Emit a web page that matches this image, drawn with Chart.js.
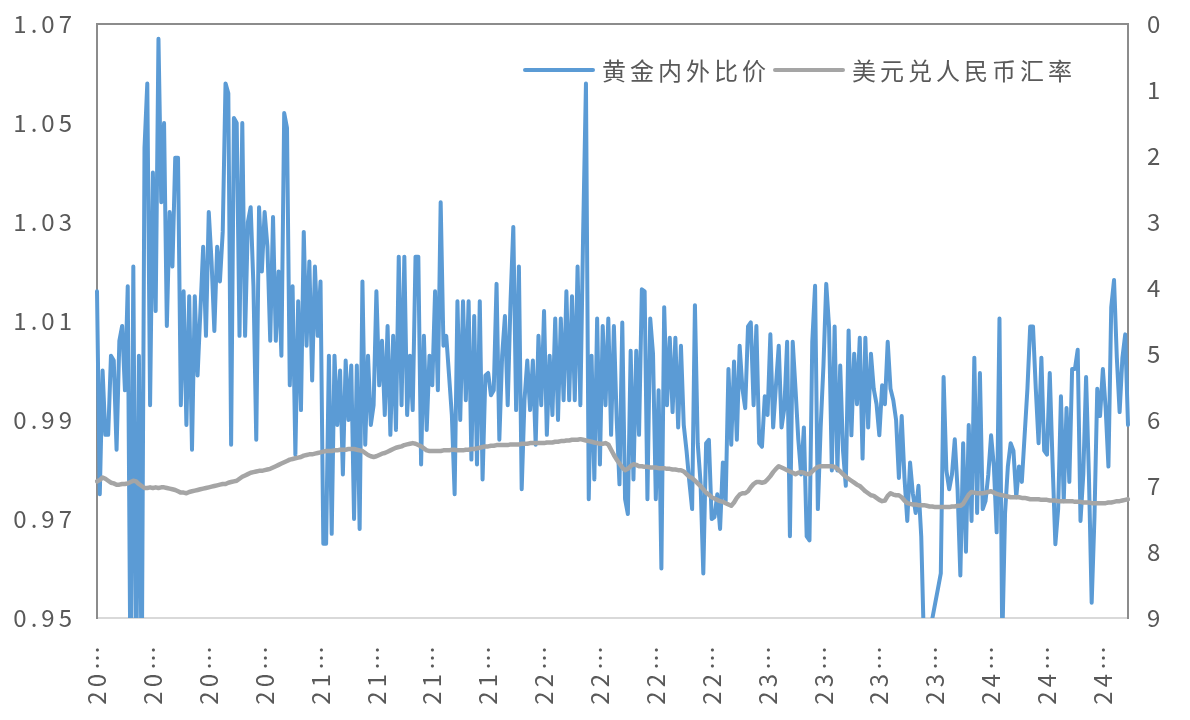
<!DOCTYPE html>
<html>
<head>
<meta charset="utf-8">
<script src="https://cdn.jsdelivr.net/npm/chart.js@4/dist/chart.umd.min.js"></script>
<style>
  html, body { margin: 0; padding: 0; background: #fff; }
  #wrap { position: relative; width: 1190px; height: 720px; }
  #legend {
    position: absolute; left: 523px; top: 52px;
    display: flex; align-items: center;
    font: 24px "Noto Sans CJK SC", sans-serif; letter-spacing: 4px; color: #595959;
  }
  #legend .item { display: flex; align-items: center; margin-right: 3px; }
  #legend .swatch { width: 72px; height: 4px; border-radius: 2px; margin-right: 7px; }
</style>
</head>
<body>
<div id="wrap">
  <canvas id="chart" width="1190" height="720"></canvas>
  <div id="legend"></div>
</div>
<script>
// 黄金内外比价 vs 美元兑人民币汇率, 2020 - 2024

const SERIES_NAMES = ["黄金内外比价", "美元兑人民币汇率"];

// one label shown every 20 points (quarterly)
const xTickText = ["20…", "20…", "20…", "20…", "21…", "21…", "21…", "21…", "22…", "22…",
  "22…", "22…", "23…", "23…", "23…", "23…", "24…", "24…", "24…"];
const TICK_EVERY = 20;

const leftTicks = { min: 0.95, max: 1.07, step: 0.02 };
const rightTicks = { min: 0, max: 9, step: 1 };

// gold domestic / overseas price ratio (left axis)
const goldRatio = [
  1.016, 0.975, 1.0, 0.987, 0.987, 1.003, 1.002, 0.984, 1.006, 1.009,
  0.996, 1.017, 0.935, 1.021, 0.935, 1.003, 0.935, 1.045, 1.058, 0.993,
  1.04, 1.012, 1.067, 1.034, 1.05, 1.009, 1.032, 1.021, 1.043, 1.043,
  0.993, 1.016, 0.989, 1.015, 0.984, 1.015, 0.999, 1.012, 1.025, 1.007,
  1.032, 1.022, 1.008, 1.025, 1.018, 1.028, 1.058, 1.056, 0.985, 1.051,
  1.05, 1.007, 1.05, 1.007, 1.03, 1.033, 1.017, 0.986, 1.033, 1.02,
  1.032, 1.025, 1.006, 1.031, 1.006, 1.02, 1.003, 1.052, 1.049, 0.997,
  1.017, 0.983, 1.014, 0.992, 1.028, 1.005, 1.022, 0.998, 1.021, 1.007,
  1.018, 0.965, 0.965, 1.003, 0.967, 1.003, 0.989, 1.0, 0.979, 1.002,
  0.99, 1.001, 0.97, 1.001, 0.968, 1.018, 0.985, 1.003, 0.989, 0.993,
  1.016, 0.997, 1.006, 0.991, 1.009, 0.987, 1.007, 0.988, 1.023, 0.993,
  1.023, 0.991, 1.003, 0.992, 1.023, 1.023, 0.981, 1.007, 0.988, 1.003,
  0.997, 1.016, 0.996, 1.034, 1.005, 1.007, 0.999, 0.991, 0.975, 1.014,
  0.99, 1.014, 0.994, 1.014, 0.982, 1.011, 0.981, 1.014, 0.978, 0.999,
  0.9995, 0.995, 0.996, 1.0175, 0.986, 1.003, 1.011, 0.993, 1.014, 1.029,
  0.992, 1.021, 0.976, 0.994, 1.002, 0.992, 1.002, 0.985, 1.007, 0.993,
  1.012, 0.987, 1.003, 0.991, 1.0105, 0.99, 1.0105, 0.994, 1.016, 0.994,
  1.015, 0.994, 1.021, 0.993, 1.028, 1.058, 0.974, 1.003, 0.978, 1.0105,
  0.981, 1.009, 0.993, 1.0105, 0.987, 1.009, 0.99, 0.977, 1.0097, 0.974,
  0.971, 1.004, 0.978, 1.004, 0.987, 1.0164, 1.016, 0.974, 1.0105, 1.0034,
  0.974, 0.996, 0.96, 1.0128, 0.993, 1.0066, 0.9916, 1.0066, 0.9885, 1.005,
  0.989, 0.9838, 0.9775, 0.972, 1.0132, 0.9853, 0.9775, 0.959, 0.9853, 0.986,
  0.97, 0.9704, 0.975, 0.968, 0.9814, 0.9736, 1.0003, 0.985, 1.0018, 0.986,
  1.005, 0.9963, 0.9924, 1.0089, 1.0097, 0.993, 1.009, 0.9853, 0.9846, 0.9948,
  0.991, 1.0073, 0.9885, 0.997, 1.005, 0.9885, 0.9924, 1.0058, 0.9665, 1.0058,
  0.9963, 0.9861, 0.979, 0.9885, 0.9665, 0.9657, 1.0058, 1.0171, 0.972, 0.9885,
  1.001, 1.0175, 1.0089, 0.9798, 1.0089, 0.9798, 1.001, 0.9838, 0.9767, 1.0081,
  0.9869, 1.0034, 0.9932, 1.0066, 0.9822, 1.0066, 0.9885, 1.0034, 0.9963, 0.9932,
  0.9869, 0.997, 0.9932, 1.0058, 0.9963, 0.994, 0.99, 0.9783, 0.9908, 0.9783,
  0.9696, 0.9814, 0.9751, 0.9712, 0.9767, 0.9665, 0.944, 0.94, 0.947, 0.95,
  0.953, 0.956, 0.959, 0.9987, 0.9798, 0.976, 0.979, 0.9861, 0.976, 0.9586,
  0.9853, 0.9634, 0.989, 0.9696, 1.0026, 0.9712, 0.9995, 0.972, 0.9736, 0.979,
  0.9869, 0.9806, 0.9673, 1.0105, 0.945, 0.9712, 0.9806, 0.9853, 0.9838, 0.9744,
  0.9806, 0.9775, 0.9869, 0.9963, 1.0089, 1.0089, 0.9963, 0.9853, 1.0026, 0.9838,
  0.983, 0.9995, 0.9814, 0.9649, 0.972, 0.9948, 0.9736, 0.9924, 0.9775, 1.0003,
  1.0003, 1.0042, 0.9696, 0.979, 0.9987, 0.979, 0.9531, 0.9704, 0.9963, 0.9908,
  1.0003, 0.9924, 0.9806, 1.0128, 1.0183, 1.0026, 0.9916, 1.0026, 1.0073, 0.989,
];

// USD/CNY (right axis, reversed)
const usdCny = [
  6.93, 6.91, 6.87, 6.89, 6.92, 6.95, 6.96, 6.98, 6.98, 6.97,
  6.97, 6.96, 6.94, 6.92, 6.93, 6.97, 7.0, 7.03, 7.03, 7.02,
  7.03, 7.02, 7.03, 7.02, 7.02, 7.03, 7.04, 7.05, 7.06, 7.08,
  7.1, 7.1, 7.11, 7.09, 7.08, 7.07, 7.06, 7.05, 7.04, 7.03,
  7.02, 7.01, 7.0, 6.99, 6.98, 6.97, 6.97, 6.95, 6.94, 6.93,
  6.92, 6.89, 6.86, 6.84, 6.82, 6.8, 6.79, 6.78, 6.77, 6.77,
  6.76, 6.75, 6.74, 6.72, 6.7, 6.68, 6.66, 6.64, 6.62, 6.6,
  6.59, 6.58, 6.57, 6.56, 6.54, 6.53, 6.52, 6.52, 6.51, 6.5,
  6.49, 6.48, 6.47, 6.47, 6.47, 6.46, 6.46, 6.45, 6.45, 6.45,
  6.44, 6.44, 6.44, 6.45, 6.46, 6.47, 6.5, 6.53, 6.55, 6.56,
  6.55, 6.53, 6.51, 6.5, 6.48, 6.46, 6.44, 6.42, 6.41, 6.4,
  6.38, 6.37, 6.36, 6.35, 6.36, 6.38, 6.4, 6.43, 6.46, 6.47,
  6.47, 6.47, 6.47, 6.47, 6.46, 6.46, 6.46, 6.45, 6.45, 6.46,
  6.46, 6.46, 6.45, 6.45, 6.44, 6.44, 6.43, 6.42, 6.41, 6.4,
  6.4, 6.39, 6.39, 6.38, 6.38, 6.38, 6.38, 6.38, 6.37, 6.37,
  6.37, 6.37, 6.36, 6.36, 6.36, 6.35, 6.35, 6.35, 6.35, 6.35,
  6.35, 6.34, 6.34, 6.34, 6.33, 6.33, 6.32, 6.32, 6.31, 6.31,
  6.3, 6.3, 6.3, 6.29, 6.3, 6.31, 6.32, 6.33, 6.34, 6.35,
  6.36, 6.36, 6.35, 6.37, 6.45, 6.53, 6.6, 6.66, 6.72, 6.76,
  6.74, 6.7, 6.67, 6.68, 6.7, 6.7, 6.71, 6.71, 6.72, 6.72,
  6.72, 6.73, 6.73, 6.73, 6.74, 6.74, 6.75, 6.75, 6.76, 6.76,
  6.78, 6.82, 6.86, 6.88, 6.92, 6.96, 7.0, 7.05, 7.1, 7.13,
  7.17, 7.19, 7.21, 7.23, 7.24, 7.26, 7.28, 7.3, 7.25, 7.18,
  7.13, 7.11, 7.11, 7.08, 7.02, 6.97, 6.94, 6.94, 6.95, 6.94,
  6.9, 6.85, 6.79, 6.74, 6.7, 6.72, 6.74, 6.76, 6.78, 6.8,
  6.82, 6.8, 6.79, 6.8, 6.82, 6.82, 6.78, 6.74, 6.71, 6.7,
  6.7, 6.7, 6.7, 6.7, 6.71, 6.74, 6.78, 6.82, 6.86, 6.89,
  6.92, 6.95, 6.98, 7.0, 7.04, 7.08, 7.11, 7.14, 7.15, 7.18,
  7.21, 7.23, 7.22, 7.15, 7.11, 7.13, 7.14, 7.14, 7.17, 7.22,
  7.26, 7.27, 7.28, 7.28, 7.29, 7.29, 7.29, 7.3, 7.31, 7.31,
  7.32, 7.32, 7.32, 7.32, 7.32, 7.32, 7.31, 7.31, 7.3, 7.3,
  7.27, 7.2, 7.13, 7.09, 7.1, 7.11, 7.11, 7.11, 7.1, 7.09,
  7.08, 7.1, 7.12, 7.13, 7.14, 7.15, 7.16, 7.17, 7.17, 7.17,
  7.17, 7.18, 7.18, 7.19, 7.2, 7.2, 7.2, 7.2, 7.21, 7.21,
  7.21, 7.22, 7.22, 7.22, 7.23, 7.23, 7.23, 7.23, 7.23, 7.23,
  7.24, 7.24, 7.24, 7.25, 7.25, 7.25, 7.26, 7.26, 7.26, 7.26,
  7.26, 7.26, 7.25, 7.25, 7.24, 7.23, 7.23, 7.22, 7.21, 7.2,
];

const COLORS = ["#5b9bd5", "#a5a5a5"];
const TEXT_COLOR = "#595959";
const FONT = { family: '"Noto Sans CJK SC", "Noto Sans", sans-serif', size: 24 };

const xCategories = goldRatio.map((_, i) => i);

// invisible tick marks push the value labels away from the axis
// without adding to the top padding of the plot
const hiddenTicks = {
  display: true,
  drawOnChartArea: false,
  drawTicks: true,
  tickLength: 19,
  color: "transparent",
  tickColor: "transparent",
};

// Excel-like character spacing plus the top edge of the plot box
const frame = {
  id: "frame",
  beforeDraw(chart) {
    chart.ctx.letterSpacing = "4px";
  },
  afterDraw(chart) {
    const { ctx, chartArea } = chart;
    ctx.save();
    ctx.strokeStyle = "#8c8c8c";
    ctx.lineWidth = 2;
    ctx.beginPath();
    ctx.moveTo(chartArea.left, chartArea.top);
    ctx.lineTo(chartArea.right, chartArea.top);
    ctx.stroke();
    ctx.restore();
  },
};

function buildLegend(chart) {
  const box = document.getElementById("legend");
  box.innerHTML = "";
  chart.data.datasets.forEach((ds) => {
    const item = document.createElement("div");
    item.className = "item";
    const sw = document.createElement("span");
    sw.className = "swatch";
    sw.style.background = ds.borderColor;
    const txt = document.createElement("span");
    txt.textContent = ds.label;
    item.appendChild(sw);
    item.appendChild(txt);
    box.appendChild(item);
  });
}

const chart = new Chart(document.getElementById("chart"), {
  type: "line",
  data: {
    labels: xCategories,
    datasets: [
      {
        label: SERIES_NAMES[0],
        data: goldRatio,
        yAxisID: "y",
        borderColor: COLORS[0],
        borderWidth: 4,
        borderJoinStyle: "round",
        borderCapStyle: "round",
        pointRadius: 0,
        tension: 0,
        order: 1,
      },
      {
        label: SERIES_NAMES[1],
        data: usdCny,
        yAxisID: "y2",
        borderColor: COLORS[1],
        borderWidth: 4.5,
        borderJoinStyle: "round",
        borderCapStyle: "round",
        pointRadius: 0,
        tension: 0,
        order: 0,
      },
    ],
  },
  options: {
    responsive: false,
    animation: false,
    layout: { padding: { top: 24, left: 0, right: 0, bottom: 0 } },
    plugins: {
      legend: { display: false },
      tooltip: { enabled: false },
    },
    scales: {
      x: {
        type: "category",
        offset: false,
        grid: { display: false, drawTicks: false },
        border: { display: true, color: "#d9d9d9", width: 2 },
        ticks: {
          autoSkip: false,
          maxRotation: 90,
          minRotation: 90,
          padding: 24,
          color: TEXT_COLOR,
          font: FONT,
          callback: (v, i) => (i % TICK_EVERY === 0 ? xTickText[i / TICK_EVERY] : null),
        },
        afterFit: (s) => { s.height = 102; },
      },
      y: {
        position: "left",
        min: leftTicks.min,
        max: leftTicks.max,
        grid: hiddenTicks,
        border: { display: true, color: "#8c8c8c", width: 2 },
        ticks: {
          stepSize: leftTicks.step,
          padding: 2,
          color: TEXT_COLOR,
          font: FONT,
          callback: (v) => Number(v).toFixed(2),
        },
        afterFit: (s) => { s.width = 97; },
      },
      y2: {
        position: "right",
        reverse: true,
        min: rightTicks.min,
        max: rightTicks.max,
        grid: hiddenTicks,
        border: { display: true, color: "#8c8c8c", width: 2 },
        ticks: {
          stepSize: rightTicks.step,
          padding: 0,
          color: TEXT_COLOR,
          font: FONT,
        },
        afterFit: (s) => { s.width = 62; },
      },
    },
  },
  plugins: [frame],
});

buildLegend(chart);
</script>
</body>
</html>
